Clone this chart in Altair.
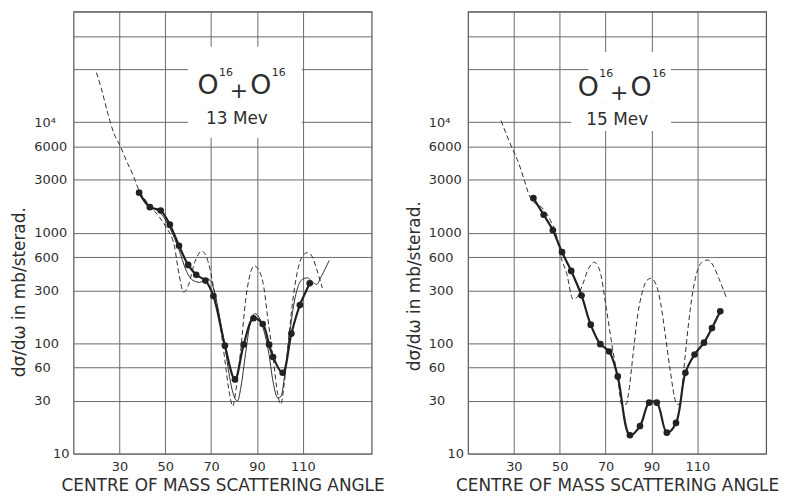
import altair as alt
import pandas as pd

# ---------------- data ----------------
# 13 MeV panel
l_pts_angle = [38.6, 43.3, 48, 52, 56, 60, 63.5, 67.5, 71, 76, 80.4, 84.2, 88.5, 92.5, 95.3, 97, 101.2, 105, 108.7, 113]
l_pts_value = [2300, 1700, 1585, 1180, 760, 510, 415, 368, 267, 95, 47, 97, 168, 149, 97, 75, 54, 122, 221, 348]

l_thin_angle = [38.6, 43, 48, 52, 56, 59, 62, 65, 68, 70, 72, 74, 76, 78, 80, 81.5, 83, 85, 87, 89, 91, 93, 95, 97, 99, 100.5,
                102, 104, 106, 108, 110, 112, 114, 116, 118, 121.5]
l_thin_value = [2300, 1750, 1500, 1100, 700, 460, 370, 355, 385, 360, 260, 160, 95, 50, 33, 30, 40, 80, 150, 185, 170, 130,
                85, 45, 32, 33, 50, 110, 220, 330, 380, 390, 360, 340, 400, 560]

l_dash_angle = [20, 22, 25, 27.6, 30.5, 33, 36, 38.6, 42, 45.5, 50, 54, 56, 58, 60, 63, 66, 68, 69.6, 71, 73.5, 76, 78, 79.4,
                81, 83, 85, 87, 88.8, 91, 93, 94.6, 97, 99, 100.4, 102, 104, 106, 108, 110, 112, 114, 116, 118.5]
l_dash_value = [28000, 20500, 11900, 7900, 6000, 4500, 3300, 2400, 1900, 1550, 1150, 750, 420, 290, 330, 550, 680, 600, 460,
                325, 175, 70, 35, 27, 40, 90, 240, 420, 500, 450, 320, 175, 75, 35, 28, 45, 120, 280, 480, 620, 660, 610, 470, 315]

# 15 MeV panel
r_pts_angle = [38.5, 43, 47, 51, 55, 59.5, 63.5, 67.7, 71.6, 75.3, 80.6, 85, 89, 92.3, 96.7, 100.7, 104.8, 108.8, 112.9, 116.4, 120]
r_pts_value = [2050, 1450, 1050, 665, 450, 270, 147, 98, 84, 50, 14.7, 17.8, 29, 29, 15.5, 19, 54, 79, 101, 137, 194]

r_dash_angle = [24.4, 27, 29.4, 32, 34.4, 36.6, 38.5, 42, 46, 48.8, 50.2, 53, 55.8, 57.5, 60, 62.5, 65, 67.5, 70.4, 73, 75.5,
                77, 79, 80, 82, 84, 86, 88, 89.7, 92, 94, 96, 98, 100, 101, 102.5, 104, 106, 108, 110, 112, 114.6, 117, 119.5, 122.7]
r_dash_value = [10300, 7500, 5700, 4300, 3050, 2200, 1900, 1700, 1280, 900, 640, 430, 250, 260, 340, 470, 540, 450, 200, 90, 45,
                28, 28, 35, 80, 180, 290, 370, 385, 340, 230, 120, 60, 33, 28, 28, 55, 140, 290, 450, 540, 565, 500, 380, 257]

# label boxes (white patches covering the grid) and their text anchors
l_box = {"angle": [60], "angle2": [109.5], "value": [7200], "value2": [48000]}
r_box = {"angle": [62.5, 55], "angle2": [98.5, 98.5], "value": [15000, 8300], "value2": [43000, 15000]}
l_anchor = {"angle": [83], "value": [21000]}
r_anchor = {"angle": [76.8], "value": [20500]}
l_energy = "13 Mev"
r_energy = "15 Mev"
corner = {"angle": [10], "value": [10]}   # bottom-left corner label "10"

x_ticks = [30, 50, 70, 90, 110]
y_ticks = [10, 30, 60, 100, 300, 600, 1000, 3000, 6000, 10000, 30000, 60000, 100000]

INK = "#2e2e2e"
GRID = "#6a6a6a"
FONT = "DejaVu Sans"

W, H = 300, 445


def panel(pts_a, pts_v, dash_a, dash_v, thin_a, thin_v, box, anchor, energy, title_y):
    x_scale = alt.Scale(domain=[10, 140], nice=False, zero=False)
    y_scale = alt.Scale(type="log", domain=[10, 100000], nice=False)

    x_axis = alt.Axis(values=x_ticks, title="CENTRE OF MASS SCATTERING ANGLE", grid=True, ticks=False,
                      domain=False, labelPadding=7, titlePadding=4, labelFontSize=13, titleFontSize=17,
                      labelFont=FONT, titleFont=FONT, labelColor=INK, titleColor=INK, titleFontWeight="normal",
                      gridColor=GRID, gridWidth=1)
    y_axis = alt.Axis(values=y_ticks, title="d\u03c3/d\u03c9 in mb/sterad.", grid=True, ticks=False, domain=False,
                      labelExpr="datum.value == 10000 ? '10\u2074' : ((datum.value > 10000 || datum.value == 10) ? '' : format(datum.value, 'd'))",
                      labelAlign="left", labelPadding=40,
                      labelBaseline="middle", labelOverlap=False, labelFontSize=13, titleFontSize=17,
                      labelFont=FONT, titleFont=FONT, labelColor=INK, titleColor=INK, titleFontWeight="normal",
                      titleAngle=-90, titleX=-54, titleY=title_y, titleAlign="center", titleBaseline="middle",
                      gridColor=GRID, gridWidth=1)

    X = alt.X("angle:Q", scale=x_scale, axis=x_axis)
    Y = alt.Y("value:Q", scale=y_scale, axis=y_axis)

    box_layer = alt.Chart(pd.DataFrame(box)).mark_rect(fill="white", stroke=None).encode(
        x=X, x2="angle2:Q", y=Y, y2="value2:Q")

    dash_df = pd.DataFrame({"angle": dash_a, "value": dash_v})
    layers = [box_layer,
              alt.Chart(dash_df).mark_line(color=INK, strokeWidth=1, strokeDash=[5, 3],
                                           interpolate="monotone", clip=True).encode(x=X, y=Y, order="angle:Q")]
    if thin_a:
        thin_df = pd.DataFrame({"angle": thin_a, "value": thin_v})
        layers.append(alt.Chart(thin_df).mark_line(color=INK, strokeWidth=1, interpolate="monotone",
                                                   clip=True).encode(x=X, y=Y, order="angle:Q"))
    pts_df = pd.DataFrame({"angle": pts_a, "value": pts_v})
    layers.append(alt.Chart(pts_df).mark_line(color="#222222", strokeWidth=2.2,
                                              interpolate="catmull-rom").encode(x=X, y=Y, order="angle:Q"))
    layers.append(alt.Chart(pts_df).mark_point(filled=True, color="#222222", size=45, opacity=1).encode(x=X, y=Y))

    anc = pd.DataFrame(anchor)
    pieces = [("O", -33, 0, 27), ("16", -15, -14, 11), ("+", -2, 5, 22), ("O", 20, 0, 27), ("16", 38, -14, 11),
              (energy, -4, 33, 17)]
    for txt, dx, dy, fs in pieces:
        layers.append(alt.Chart(anc).mark_text(text=txt, dx=dx, dy=dy, fontSize=fs, font=FONT, color=INK,
                                               align="center", baseline="middle").encode(x=X, y=Y))
    layers.append(alt.Chart(pd.DataFrame(corner)).mark_text(text="10", dx=-4, fontSize=13, font=FONT, color=INK,
                                                            align="right", baseline="middle").encode(x=X, y=Y))
    return alt.layer(*layers).properties(width=W, height=H)


left = panel(l_pts_angle, l_pts_value, l_dash_angle, l_dash_value, l_thin_angle, l_thin_value,
             l_box, l_anchor, l_energy, 282)
right = panel(r_pts_angle, r_pts_value, r_dash_angle, r_dash_value, None, None,
              r_box, r_anchor, r_energy, 276)

chart = alt.hconcat(left, right, spacing=97, bounds="flush").properties(
    padding={"left": 10, "top": 3, "right": 5, "bottom": 5},
    background="white",
).configure_view(stroke="#555555", strokeWidth=1.2)

chart.save("out.html", embed_options={"renderer": "svg", "actions": False})
